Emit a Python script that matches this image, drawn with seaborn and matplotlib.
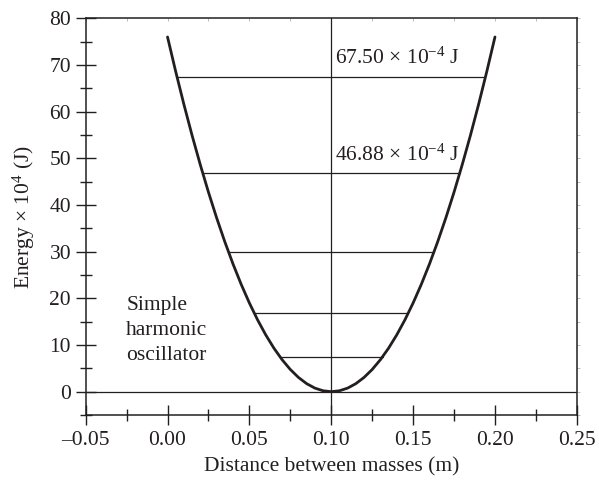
import numpy as np
import pandas as pd
import matplotlib
matplotlib.use("Agg")
import matplotlib.pyplot as plt
from matplotlib.ticker import MultipleLocator
import seaborn as sns

# Potential energy curve (energy in units of 1e-4 J) versus separation of the masses (m)
distance = [0.000, 0.005, 0.010, 0.015, 0.020, 0.025, 0.030, 0.035, 0.040, 0.045,
            0.050, 0.055, 0.060, 0.065, 0.070, 0.075, 0.080, 0.085, 0.090, 0.095,
            0.100, 0.105, 0.110, 0.115, 0.120, 0.125, 0.130, 0.135, 0.140, 0.145,
            0.150, 0.155, 0.160, 0.165, 0.170, 0.175, 0.180, 0.185, 0.190, 0.195,
            0.200]
energy = [76.00, 68.59, 61.56, 54.91, 48.64, 42.75, 37.24, 32.11, 27.36, 22.99,
          19.00, 15.39, 12.16, 9.31, 6.84, 4.75, 3.04, 1.71, 0.76, 0.19,
          0.00, 0.19, 0.76, 1.71, 3.04, 4.75, 6.84, 9.31, 12.16, 15.39,
          19.00, 22.99, 27.36, 32.11, 37.24, 42.75, 48.64, 54.91, 61.56, 68.59,
          76.00]

# Allowed energy levels and where each meets the curve
level_energy = [7.50, 16.88, 30.00, 46.88, 67.50]
level_left = [0.0686, 0.0529, 0.0372, 0.0215, 0.0058]
level_right = [0.1314, 0.1471, 0.1628, 0.1785, 0.1942]
labelled_levels = ["46.88", "67.50"]

curve = pd.DataFrame({"distance": distance, "energy": energy})
levels = pd.DataFrame({
    "distance": level_left + level_right,
    "energy": level_energy + level_energy,
    "level": list(range(len(level_energy))) * 2,
})

sns.set_theme(style="ticks")
plt.rcParams["font.family"] = ["Liberation Serif", "DejaVu Serif"]
plt.rcParams["mathtext.fontset"] = "custom"
plt.rcParams["mathtext.rm"] = "Liberation Serif"
plt.rcParams["mathtext.it"] = "Liberation Serif:italic"
plt.rcParams["axes.unicode_minus"] = True

fig = plt.figure(figsize=(5.99, 4.83), dpi=100)
ax = fig.add_axes([0.143, 0.1408, 0.820, 0.8213])

ink = "#231f20"

ax.axhline(0, color=ink, lw=0.9, zorder=1)
ax.axvline(0.10, color=ink, lw=0.9, zorder=1)

sns.lineplot(data=levels, x="distance", y="energy", units="level", estimator=None,
             color=ink, lw=0.9, ax=ax, zorder=2)
sns.lineplot(data=curve, x="distance", y="energy", color=ink, lw=2.0, ax=ax,
             zorder=3, sort=False)

for val in labelled_levels:
    y = float(val)
    ax.text(0.1025, y + 1.6, val + r" × 10$^{-4}$ J", fontsize=15.5, color=ink,
            ha="left", va="bottom")

# caption, one line per baseline
caption = ["Simple", "harmonic", "oscillator"]
caption_y = [17.6, 12.1, 6.7]
for line, y in zip(caption, caption_y):
    ax.text(-0.0252, y, line, fontsize=15.5, color=ink, ha="left", va="baseline")

ax.set_xlim(-0.05, 0.25)
ax.set_ylim(-5, 80)
ax.xaxis.set_major_locator(MultipleLocator(0.05))
ax.xaxis.set_minor_locator(MultipleLocator(0.025))
ax.yaxis.set_major_locator(MultipleLocator(10))
ax.yaxis.set_minor_locator(MultipleLocator(5))
ax.xaxis.set_major_formatter(plt.FuncFormatter(lambda v, p: f"{v:.2f}".replace("-", "–")))

ax.tick_params(axis="both", which="major", direction="inout", length=15, width=1.0,
               color=ink, labelsize=15.5, labelcolor=ink)
ax.tick_params(axis="both", which="minor", direction="inout", length=8, width=1.0,
               color=ink)
ax.tick_params(axis="x", which="major", pad=4)
ax.tick_params(axis="y", which="major", pad=3)

# faint marks along the top and right frame
ax_t = ax.secondary_xaxis("top")
ax_t.xaxis.set_major_locator(MultipleLocator(0.025))
ax_t.tick_params(direction="in", length=2, width=0.6, color="#b0b0b0", labeltop=False)
ax_r = ax.secondary_yaxis("right")
ax_r.yaxis.set_major_locator(MultipleLocator(5))
ax_r.tick_params(direction="out", length=2, width=0.6, color="#b0b0b0", labelright=False)
for s in ax_t.spines.values():
    s.set_visible(False)
for s in ax_r.spines.values():
    s.set_visible(False)

for s in ax.spines.values():
    s.set_color(ink)
    s.set_linewidth(1.1)

ax.set_xlabel("Distance between masses (m)", fontsize=15.5, color=ink, labelpad=5)
ax.set_ylabel(r"Energy × 10$^{4}$ (J)", fontsize=15.5, color=ink, labelpad=9)

fig.savefig("out.png", dpi=100)
